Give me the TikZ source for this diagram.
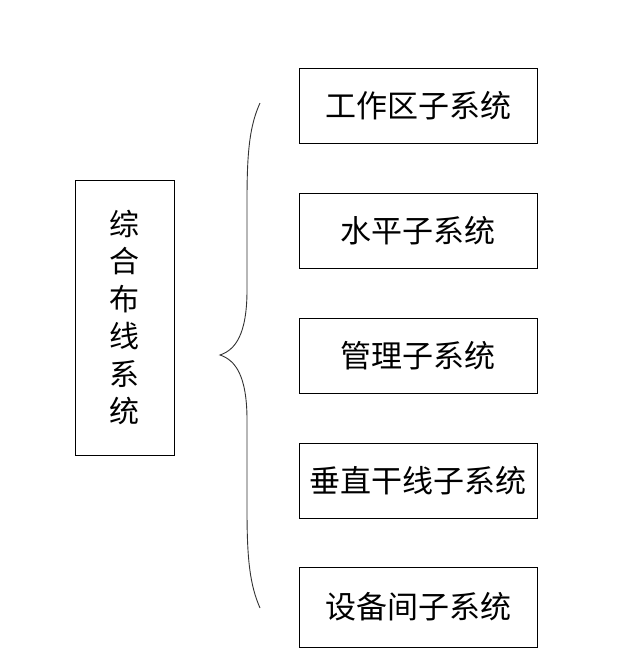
\documentclass[tikz,border=0pt]{standalone}
\usepackage{fontspec}
\newfontfamily\cjk{Noto Sans CJK SC}
\begin{document}
\begin{tikzpicture}[x=1pt,y=-1pt,
  sub/.style={draw,line width=1pt,minimum width=238pt,minimum height=75pt,inner sep=0pt,font=\cjk\fontsize{31}{31}\selectfont},
  mainbox/.style={draw,line width=1pt,minimum width=99pt,minimum height=275pt,inner sep=0pt,font=\cjk\fontsize{30}{37.5}\selectfont,align=center}]
\useasboundingbox (0,0) rectangle (624,651);
\node[mainbox] (main) at (124.5,317.5) {综\\合\\布\\线\\系\\统};
\node[sub] (s1) at (418,105.5) {工作区子系统};
\node[sub] (s2) at (418,230.5) {水平子系统};
\node[sub] (s3) at (418,355.5) {管理子系统};
\node[sub] (s4) at (418,480.5) {垂直干线子系统};
\node[sub,minimum height=80pt] (s5) at (418,607) {设备间子系统};
\coordinate (btop) at (260,103);
\coordinate (btip) at (220,355);
\coordinate (bbot) at (260,608);
\draw[line width=0.9pt,black!80] (btop) .. controls (250,125) and (247,150) .. (247,200)
  -- (247,290) .. controls (247,335) and (235,350) .. (btip)
  .. controls (235,360) and (247,375) .. (247,420)
  -- (247,510) .. controls (247,560) and (250,585) .. (bbot);
\end{tikzpicture}
\end{document}
